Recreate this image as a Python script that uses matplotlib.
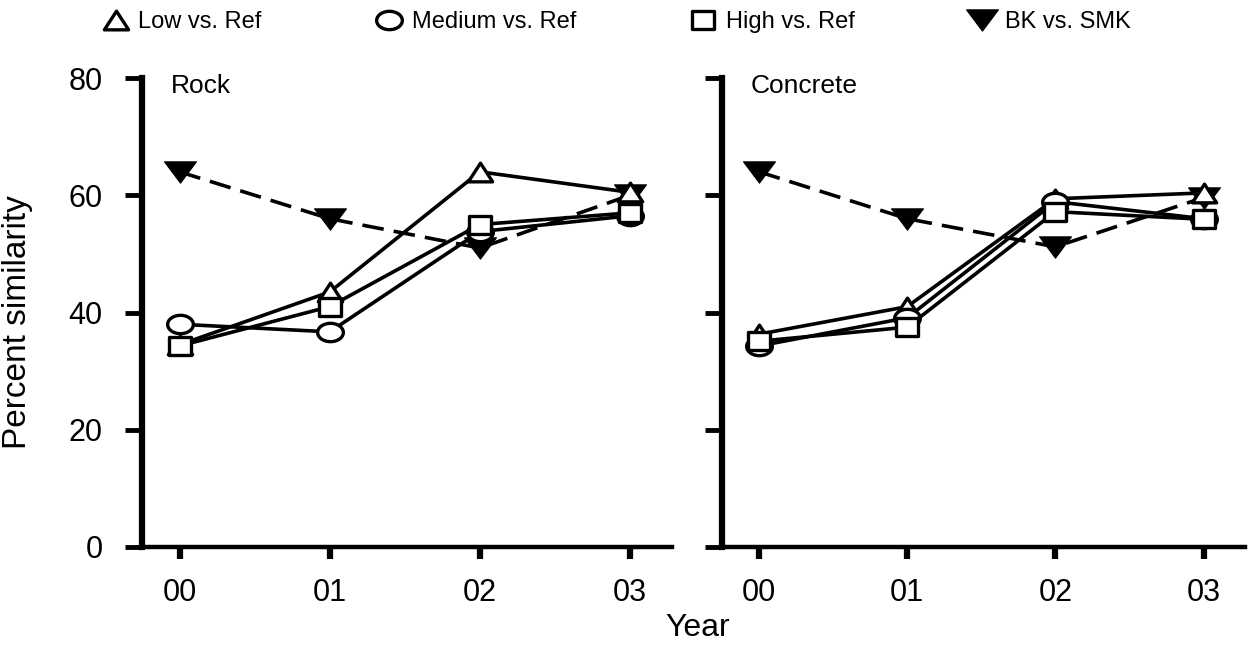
import numpy as np
import matplotlib
matplotlib.use("Agg")
import matplotlib.pyplot as plt
from matplotlib.path import Path
from matplotlib.lines import Line2D

plt.rcParams['font.family'] = ['Liberation Sans', 'DejaVu Sans']

# ---- data ----
years = ["00", "01", "02", "03"]
panels = ["Rock", "Concrete"]

rock_low = [34.5, 43.5, 64.0, 60.5]
rock_medium = [38.0, 36.7, 53.8, 56.5]
rock_high = [34.3, 41.0, 55.0, 57.0]
rock_bk = [64.0, 56.0, 51.0, 60.0]

concrete_low = [36.3, 41.0, 59.4, 60.4]
concrete_medium = [34.3, 39.1, 58.9, 56.0]
concrete_high = [35.1, 37.5, 57.2, 55.9]
concrete_bk = [64.0, 56.0, 51.2, 59.6]

series_labels = ["Low vs. Ref", "Medium vs. Ref", "High vs. Ref", "BK vs. SMK"]
y_ticks = [0, 20, 40, 60, 80]

# ---- marker shapes (slightly wider than tall) ----
def up_triangle(w=1.3, h=1.0):
    return Path([(-w / 2, -h / 2), (w / 2, -h / 2), (0, h / 2), (-w / 2, -h / 2)],
                [Path.MOVETO, Path.LINETO, Path.LINETO, Path.CLOSEPOLY])

def down_triangle(w=1.5, h=1.0):
    return Path([(-w / 2, h / 2), (w / 2, h / 2), (0, -h / 2), (-w / 2, h / 2)],
                [Path.MOVETO, Path.LINETO, Path.LINETO, Path.CLOSEPOLY])

def ellipse(w=1.4, h=1.0):
    t = np.linspace(0, 2 * np.pi, 61)
    verts = np.column_stack([w / 2 * np.cos(t), h / 2 * np.sin(t)])
    codes = [Path.MOVETO] + [Path.LINETO] * 59 + [Path.CLOSEPOLY]
    return Path(verts, codes)

def rect(w=1.3, h=1.0):
    return Path([(-w / 2, -h / 2), (w / 2, -h / 2), (w / 2, h / 2), (-w / 2, h / 2), (-w / 2, -h / 2)],
                [Path.MOVETO, Path.LINETO, Path.LINETO, Path.LINETO, Path.CLOSEPOLY])

LW = 2.6
styles = {
    "Low vs. Ref": dict(marker=up_triangle(), markersize=17.5, markerfacecolor="white",
                        markeredgecolor="black", markeredgewidth=2.4, color="black",
                        linestyle="-", linewidth=LW),
    "Medium vs. Ref": dict(marker=ellipse(), markersize=18.5, markerfacecolor="white",
                           markeredgecolor="black", markeredgewidth=2.4, color="black",
                           linestyle="-", linewidth=LW),
    "High vs. Ref": dict(marker=rect(), markersize=16.5, markerfacecolor="white",
                         markeredgecolor="black", markeredgewidth=2.4, color="black",
                         linestyle="-", linewidth=LW),
    "BK vs. SMK": dict(marker=down_triangle(), markersize=23, markerfacecolor="black",
                       markeredgecolor="black", markeredgewidth=0.8, color="black",
                       linestyle=(0, (6.0, 2.8)), linewidth=LW),
}

panel_data = {
    "Rock": [rock_low, rock_medium, rock_high, rock_bk],
    "Concrete": [concrete_low, concrete_medium, concrete_high, concrete_bk],
}

fig = plt.figure(figsize=(12.57, 6.46), dpi=100)
ax_bottom = (646 - 547) / 646
ax_height = (547 - 78) / 646
axes = [
    fig.add_axes([142 / 1257, ax_bottom, (672 - 142) / 1257, ax_height]),
    fig.add_axes([722 / 1257, ax_bottom, (1245 - 722) / 1257, ax_height]),
]

x = np.arange(len(years))
for ax, name in zip(axes, panels):
    data = panel_data[name]
    # dashed BK series underneath, reference comparisons on top
    order = [3, 0, 1, 2]
    for z, i in enumerate(order):
        lab = series_labels[i]
        ax.plot(x, data[i], zorder=3 + z, clip_on=False, **styles[lab])

    ax.set_xlim(-0.25, 3.28)
    ax.set_ylim(0, 80)
    ax.set_xticks(x)
    ax.set_xticklabels(years)
    ax.set_yticks(y_ticks)
    if ax is axes[0]:
        ax.set_yticklabels([str(v) for v in y_ticks])
    else:
        ax.set_yticklabels([])

    for s in ["top", "right"]:
        ax.spines[s].set_visible(False)
    ax.spines["left"].set_linewidth(4.5)
    ax.spines["bottom"].set_linewidth(3.2)
    ax.tick_params(axis="y", length=12.5, width=3.5, labelsize=22, pad=16, color="black")
    ax.tick_params(axis="x", length=8.5, width=4.5, labelsize=22, pad=14, color="black")
    ax.text(0.055, 0.968, name, transform=ax.transAxes, fontsize=19,
            ha="left", va="baseline")

axes[0].set_ylabel("Percent similarity", fontsize=24)
axes[0].yaxis.set_label_coords((33 - 142) / 530, (547 - 322) / 469)
fig.text(698 / 1257, 1 - 628 / 646, "Year", fontsize=23, ha="center", va="center")

handles = []
for lab in series_labels:
    st = dict(styles[lab])
    st["linestyle"] = "none"
    handles.append(Line2D([], [], **st))
fig.legend(handles, series_labels, loc="center left", bbox_to_anchor=(104 / 1257, 1 - 22 / 646),
           ncol=4, frameon=False, fontsize=17, handlelength=1.0, handletextpad=0.45,
           columnspacing=4.9, borderpad=0, borderaxespad=0)

fig.savefig("out.png", dpi=100)
